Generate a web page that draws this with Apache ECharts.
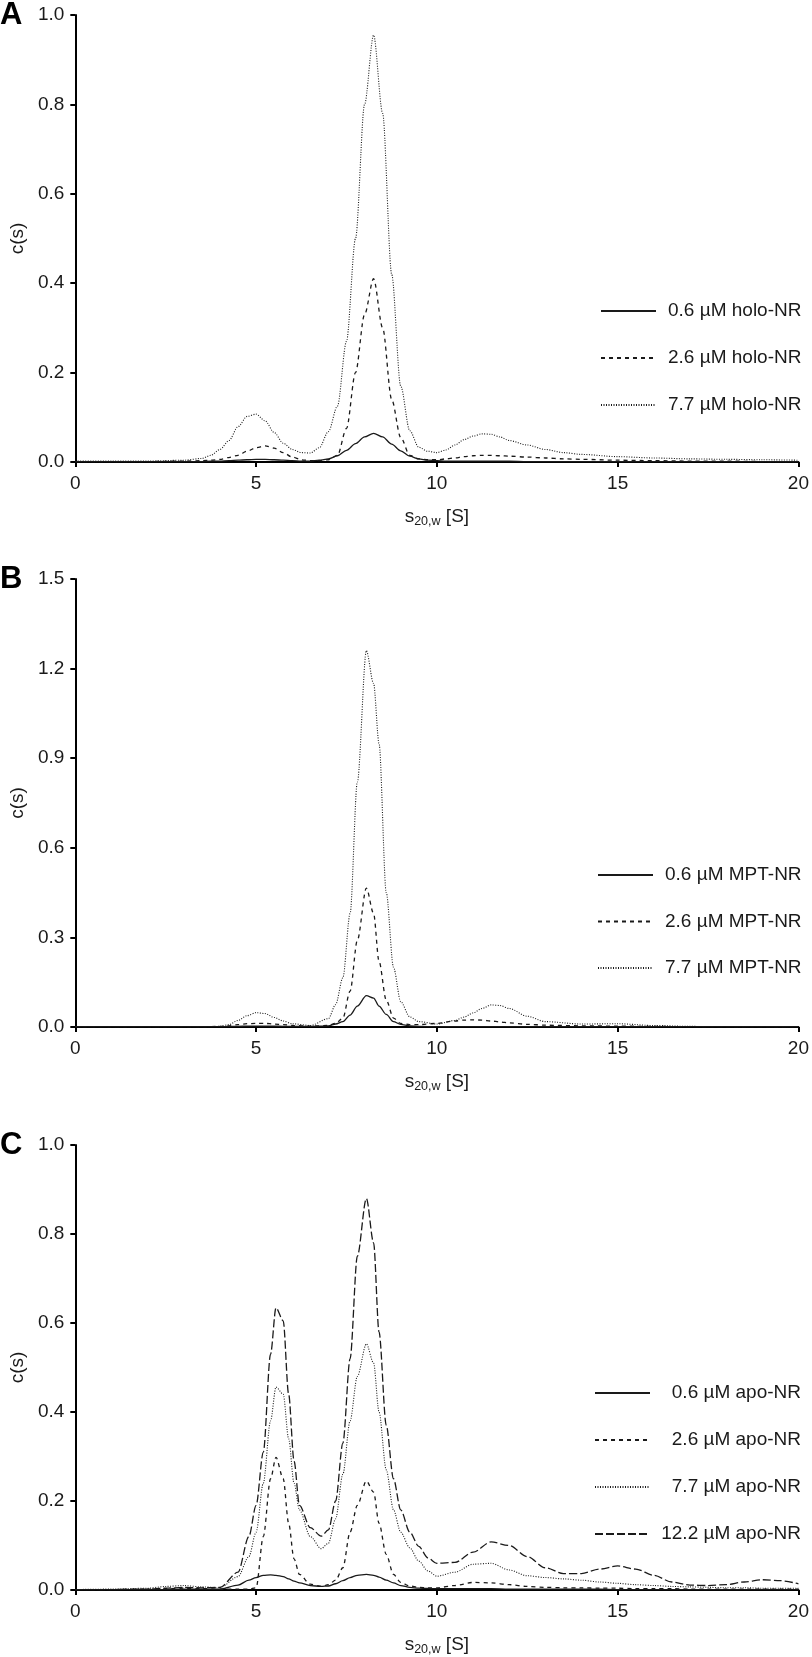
<!DOCTYPE html>
<html>
<head>
<meta charset="utf-8">
<script src="https://cdn.jsdelivr.net/npm/echarts@6/dist/echarts.min.js"></script>
<style>
html,body{margin:0;padding:0;background:#fff;}
#chart{width:812px;height:1657px;}
</style>
</head>
<body>
<div id="chart"></div>
<script>
// ---- Panel A: holo-NR ----
const sA = [0,1,2,3, 3.5,3.75,4,4.25,4.5, 4.75,5,5.25,5.5,5.75, 6,6.25,6.5,6.75,7, 7.25,7.5,7.75,8,8.25, 8.5,8.75,9,9.25,9.5, 9.75,10,10.25,10.5,10.75, 11,11.25,11.5,11.75,12, 12.5,13,13.5,14,15, 16,17,18,19,20];
const holo06 = [0.001,0.001,0.001,0.001, 0.001,0.002,0.002,0.003,0.004, 0.005,0.006,0.006,0.005,0.004, 0.003,0.002,0.002,0.004,0.007, 0.014,0.026,0.041,0.056,0.064, 0.056,0.040,0.025,0.013,0.007, 0.004,0.003,0.002,0.002,0.002, 0.002,0.002,0.002,0.002,0.002, 0.001,0.001,0.001,0.001,0.001, 0.001,0.001,0.001,0.001,0.001];
const holo26 = [0.001,0.001,0.001,0.002, 0.003,0.004,0.006,0.010,0.015, 0.024,0.032,0.036,0.031,0.021, 0.011,0.005,0.003,0.003,0.005, 0.015,0.075,0.20,0.33,0.41, 0.30,0.14,0.055,0.015,0.007, 0.005,0.005,0.007,0.009,0.012, 0.014,0.015,0.015,0.014,0.013, 0.011,0.009,0.007,0.006,0.004, 0.003,0.002,0.002,0.001,0.001];
const holo77 = [0.002,0.002,0.002,0.004, 0.008,0.015,0.028,0.048,0.079, 0.102,0.107,0.092,0.066,0.042, 0.028,0.021,0.020,0.032,0.068, 0.125,0.27,0.50,0.80,0.955, 0.78,0.42,0.17,0.07,0.033, 0.024,0.021,0.027,0.038,0.050, 0.058,0.063,0.062,0.056,0.048, 0.038,0.028,0.021,0.017,0.012, 0.009,0.007,0.006,0.005,0.004];

// ---- Panel B: MPT-NR ----
const sB = [0,1,2,3,3.5, 4,4.25,4.5,4.75,5, 5.25,5.5,5.75,6,6.5, 7,7.2,7.4,7.6,7.8, 8.05,8.25,8.4,8.6,8.8, 9,9.25,9.5,10,10.5, 10.75,11,11.25,11.5,11.75, 12,12.5,13,14,15, 16,17,18,19,20];
const mpt06 = [0.001,0.001,0.001,0.001,0.001, 0.001,0.002,0.002,0.003,0.003, 0.003,0.003,0.002,0.002,0.002, 0.004,0.010,0.018,0.040,0.070, 0.105,0.097,0.070,0.042,0.018, 0.009,0.004,0.002,0.001,0.001, 0.001,0.001,0.001,0.001,0.001, 0.001,0.001,0.001,0.001,0.001, 0.001,0.001,0.001,0.001,0.001];
const mpt26 = [0.001,0.001,0.001,0.001,0.001, 0.002,0.004,0.008,0.011,0.012, 0.012,0.010,0.008,0.005,0.003, 0.005,0.012,0.030,0.12,0.29, 0.465,0.38,0.22,0.09,0.03, 0.012,0.008,0.008,0.012,0.020, 0.023,0.024,0.023,0.020,0.017, 0.014,0.009,0.006,0.004,0.003, 0.002,0.001,0.001,0.001,0.001];
const mpt77 = [0.001,0.001,0.001,0.001,0.001, 0.002,0.008,0.022,0.038,0.048, 0.045,0.032,0.020,0.011,0.005, 0.028,0.075,0.165,0.38,0.82, 1.26,1.15,0.95,0.45,0.20, 0.085,0.034,0.018,0.010,0.022, 0.033,0.047,0.062,0.074,0.072, 0.062,0.036,0.018,0.010,0.011, 0.005,0.002,0.001,0.001,0.001];

// ---- Panel C: apo-NR ----
const sC = [0,1,2,2.5,3, 3.5,4,4.5,4.8,5, 5.2,5.4,5.55,5.75,5.9, 6.05,6.2,6.5,6.8,7, 7.2,7.4,7.6,7.8,8.05, 8.25,8.4,8.6,8.8,9, 9.25,9.5,9.75,10,10.5,11, 11.5,12,12.5,13,13.5, 14,14.5,15,15.5,16, 16.5,17,17.5,18,18.5, 19,19.5,20];
const apo06 = [0.001,0.001,0.001,0.001,0.002, 0.002,0.002,0.011,0.022,0.028, 0.033,0.034,0.033,0.030,0.025, 0.020,0.016,0.010,0.008,0.009, 0.014,0.021,0.028,0.033,0.035, 0.033,0.029,0.022,0.016,0.010, 0.006,0.004,0.0035,0.003,0.003,0.003, 0.003,0.002,0.002,0.002,0.002, 0.002,0.002,0.001,0.001,0.001, 0.001,0.001,0.001,0.001,0.001, 0.001,0.001,0.001];
const apo26 = [0.001,0.001,0.002,0.003,0.004, 0.003,0.002,0.002,0.002,0.005, 0.12,0.25,0.298,0.25,0.15, 0.07,0.035,0.013,0.008,0.012, 0.022,0.05,0.13,0.19,0.245, 0.22,0.15,0.08,0.035,0.017, 0.009,0.006,0.005,0.005,0.010,0.017, 0.016,0.012,0.008,0.006,0.005, 0.005,0.004,0.004,0.003,0.003, 0.003,0.002,0.002,0.002,0.002, 0.002,0.002,0.002];
const apo77 = [0.001,0.002,0.004,0.008,0.010, 0.007,0.005,0.03,0.075,0.13, 0.24,0.38,0.456,0.44,0.34, 0.24,0.18,0.12,0.093,0.105, 0.16,0.26,0.38,0.48,0.553, 0.51,0.40,0.27,0.18,0.13, 0.095,0.065,0.043,0.031,0.04,0.058, 0.06,0.045,0.032,0.028,0.025, 0.022,0.018,0.015,0.012,0.010, 0.008,0.007,0.006,0.005,0.005, 0.004,0.004,0.004];
const apo122 = [0.001,0.001,0.002,0.004,0.006, 0.005,0.006,0.04,0.12,0.19, 0.31,0.53,0.634,0.605,0.44, 0.29,0.19,0.14,0.121,0.135, 0.20,0.33,0.52,0.75,0.88, 0.78,0.58,0.37,0.25,0.18, 0.13,0.098,0.072,0.06,0.062,0.085, 0.108,0.10,0.075,0.05,0.037, 0.037,0.047,0.054,0.047,0.033, 0.018,0.011,0.010,0.012,0.018, 0.023,0.021,0.014];

// Legend names
const namesA = ['0.6 \u00b5M holo-NR','2.6 \u00b5M holo-NR','7.7 \u00b5M holo-NR'];
const namesB = ['0.6 \u00b5M MPT-NR','2.6 \u00b5M MPT-NR','7.7 \u00b5M MPT-NR'];
const namesC = ['0.6 \u00b5M apo-NR','2.6 \u00b5M apo-NR','7.7 \u00b5M apo-NR','12.2 \u00b5M apo-NR'];
const panelLetters = ['A','B','C'];

// Axis ranges
const xRange = {min:0, max:20, interval:5};
const yRanges = [{min:0,max:1.0,interval:0.2},{min:0,max:1.5,interval:0.3},{min:0,max:1.0,interval:0.2}];

const FONT = "'Liberation Sans', Arial, Helvetica, sans-serif";
const INK = '#1a1a1a';

const styles = {
  solid:  {type:'solid', width:1.3},
  sdash:  {type:[4,4], width:1.3},
  dot:    {type:[1,1.5], width:1.1},
  ldash:  {type:[8,3], width:1.3}
};

function zip(xs, ys){ return xs.map((x,i)=>[x, ys[i]]); }

const grids = [
  {left:67, right:11, top:15,   height:447},
  {left:67, right:11, top:579,  height:448},
  {left:67, right:11, top:1145, height:448}
];

const xAxes = grids.map((g,i)=>({
  type:'value', gridIndex:i, min:xRange.min, max:xRange.max, interval:xRange.interval,
  name:'{a|s}{b|20,w}{a| [S]}', nameLocation:'middle', nameGap:44,
  nameTextStyle:{rich:{
    a:{fontSize:19, fontFamily:FONT, color:INK, lineHeight:22},
    b:{fontSize:12.5, fontFamily:FONT, color:INK, lineHeight:12, verticalAlign:'bottom'}
  }},
  axisLine:{show:true, onZero:false, lineStyle:{color:'#000', width:2}},
  axisTick:{show:true, length:5, lineStyle:{color:'#000', width:2}},
  axisLabel:{fontSize:19, fontFamily:FONT, color:INK, margin:12},
  splitLine:{show:false}
}));

const yAxes = grids.map((g,i)=>({
  type:'value', gridIndex:i, min:yRanges[i].min, max:yRanges[i].max, interval:yRanges[i].interval,
  name:'c(s)', nameLocation:'middle', nameGap:44,
  nameTextStyle:{fontSize:19, fontFamily:FONT, color:INK},
  axisLine:{show:true, onZero:false, lineStyle:{color:'#000', width:2}},
  axisTick:{show:true, length:5, lineStyle:{color:'#000', width:2}},
  axisLabel:{fontSize:19, fontFamily:FONT, color:INK, margin:11, formatter:v=>v.toFixed(1)},
  splitLine:{show:false}
}));

function mk(name, xs, ys, st, idx){
  return {
    name:name, type:'line', xAxisIndex:idx, yAxisIndex:idx,
    data:zip(xs, ys), symbol:'none', smooth:0.3, smoothMonotone:'x',
    lineStyle:{color:INK, type:st.type, width:st.width},
    itemStyle:{color:INK}, emphasis:{disabled:true}, animation:false
  };
}

const series = [
  mk(namesA[0], sA, holo06, styles.solid, 0),
  mk(namesA[1], sA, holo26, styles.sdash, 0),
  mk(namesA[2], sA, holo77, styles.dot, 0),
  mk(namesB[0], sB, mpt06, styles.solid, 1),
  mk(namesB[1], sB, mpt26, styles.sdash, 1),
  mk(namesB[2], sB, mpt77, styles.dot, 1),
  mk(namesC[0], sC, apo06, styles.solid, 2),
  mk(namesC[1], sC, apo26, styles.sdash, 2),
  mk(namesC[2], sC, apo77, styles.dot, 2),
  mk(namesC[3], sC, apo122, styles.ldash, 2)
];

function legend(names, left, top, gap, rightAlign){
  return {
    data:names, orient:'vertical', left:left, top:top, align:'left', padding:0,
    itemWidth:55, itemHeight:14, itemGap:gap, selectedMode:false,
    itemStyle:{opacity:0, borderWidth:0},
    formatter: rightAlign ? (n=>'{t|'+n+'}') : (n=>'{u|'+n+'}'),
    textStyle:{fontSize:19, fontFamily:FONT, color:INK, lineHeight:20,
      rich:{
        t:{fontSize:19, fontFamily:FONT, color:INK, width:146, align:'right', lineHeight:20},
        u:{fontSize:19, fontFamily:FONT, color:INK, padding:[0,0,0,7], lineHeight:20}
      }}
  };
}

const graphics = panelLetters.map((L,i)=>({
  type:'text', x:0, y:[15,579,1145][i],
  style:{text:L, fontSize:31, fontWeight:'bold', fontFamily:FONT, fill:'#000',
         textVerticalAlign:'middle', verticalAlign:'middle', textAlign:'left', align:'left'}
}));

const chart = echarts.init(document.getElementById('chart'), null, {renderer:'canvas'});
chart.setOption({
  animation:false,
  backgroundColor:'#fff',
  grid:grids,
  xAxis:xAxes,
  yAxis:yAxes,
  legend:[
    legend(namesA, 600, 301, 27, false),
    legend(namesB, 597, 865, 26.5, false),
    legend(namesC, 594, 1383, 27, true)
  ],
  graphic:graphics,
  series:series
});
</script>
</body>
</html>
